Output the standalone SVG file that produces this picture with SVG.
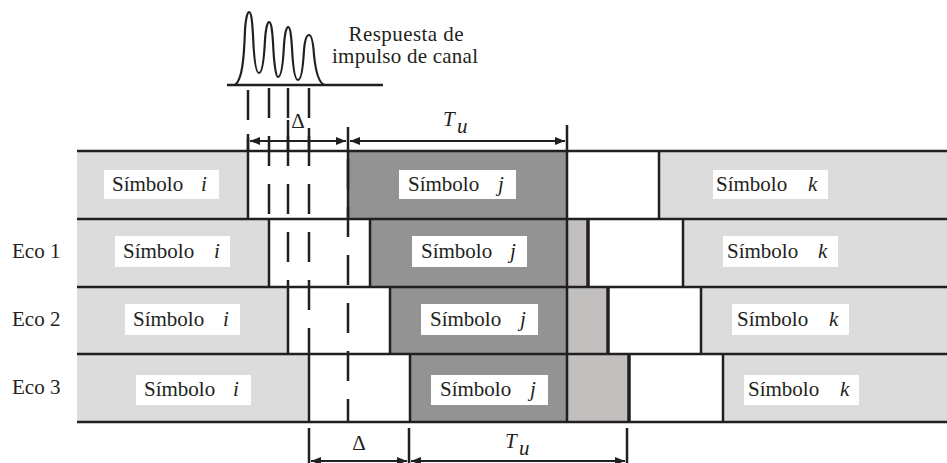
<svg xmlns="http://www.w3.org/2000/svg" width="947" height="463" viewBox="0 0 947 463">
<defs>
<style>
text{font-family:"Liberation Serif","Times New Roman",serif;font-size:21px;fill:#231f20}
.it{font-style:italic}
.lt{fill:#dcdcdc}
.dk{fill:#939393}
.md{fill:#c1c0bf}
.wh{fill:#ffffff}
.ln{stroke:#231f20;stroke-width:2.5;fill:none}
.thk{stroke:#231f20;stroke-width:3.5;fill:none}
.dash{stroke:#231f20;stroke-width:2.5;stroke-dasharray:30 18;fill:none}
.dim{stroke:#231f20;stroke-width:2;fill:none;marker-start:url(#ah);marker-end:url(#ah)}
.lab{fill:#ffffff}
</style>
<marker id="ah" viewBox="0 0 10 8" refX="10" refY="4" markerWidth="10" markerHeight="8" markerUnits="userSpaceOnUse" orient="auto-start-reverse">
<path d="M0,0 L10,4 L0,8 z" fill="#231f20"/>
</marker>
</defs>
<rect width="947" height="463" fill="#ffffff"/>

<g id="impulse">
<line class="ln" x1="227" y1="85" x2="383" y2="85" stroke-width="2"/>
<path d="M 235 85 C 242 80, 244 60, 245 30 C 246 15, 248 12, 249 12 C 251 12, 252 18, 253 35 C 254 60, 256 73, 259 73 C 262 73, 264 60, 265 40 C 266 25, 268 22, 269 22 C 271 22, 272 28, 273 42 C 274 65, 276 77, 278 77 C 281 77, 283 65, 284 45 C 285 30, 287 27, 288 27 C 290 27, 291 33, 292 48 C 293 68, 295 80, 298 80 C 301 80, 303 68, 304 50 C 305 38, 307 35, 309 35 C 311 35, 313 40, 314 55 C 316 75, 320 84, 325 85" fill="none" stroke="#231f20" stroke-width="2.2"/>
<text x="406" y="41" text-anchor="middle" textLength="115">Respuesta de</text>
<text x="405" y="63" text-anchor="middle" textLength="146">impulso de canal</text>
</g>

<g id="row0">
<rect class="lt" x="77" y="151" width="171" height="68"/>
<rect class="wh" x="248" y="151" width="100" height="68"/>
<rect class="dk" x="348" y="151" width="219" height="68"/>
<rect class="wh" x="567" y="151" width="92" height="68"/>
<rect class="lt" x="659" y="151" width="288" height="68"/>
<line class="ln" x1="248" y1="151" x2="248" y2="219"/>
<line class="ln" x1="348" y1="151" x2="348" y2="219"/>
<line class="ln" x1="567" y1="151" x2="567" y2="219"/>
<line class="ln" x1="659" y1="151" x2="659" y2="219"/>
</g>
<g id="row1">
<rect class="lt" x="77" y="219" width="192" height="68"/>
<rect class="wh" x="269" y="219" width="101" height="68"/>
<rect class="dk" x="370" y="219" width="197" height="68"/>
<rect class="md" x="567" y="219" width="21" height="68"/>
<rect class="wh" x="588" y="219" width="95" height="68"/>
<rect class="lt" x="683" y="219" width="264" height="68"/>
<line class="ln" x1="269" y1="219" x2="269" y2="287"/>
<line class="ln" x1="370" y1="219" x2="370" y2="287"/>
<line class="ln" x1="567" y1="219" x2="567" y2="287"/>
<line class="thk" x1="588" y1="219" x2="588" y2="287"/>
<line class="ln" x1="683" y1="219" x2="683" y2="287"/>
</g>
<g id="row2">
<rect class="lt" x="77" y="287" width="211" height="67"/>
<rect class="wh" x="288" y="287" width="102" height="67"/>
<rect class="dk" x="390" y="287" width="177" height="67"/>
<rect class="md" x="567" y="287" width="41" height="67"/>
<rect class="wh" x="608" y="287" width="93" height="67"/>
<rect class="lt" x="701" y="287" width="246" height="67"/>
<line class="ln" x1="288" y1="287" x2="288" y2="354"/>
<line class="ln" x1="390" y1="287" x2="390" y2="354"/>
<line class="ln" x1="567" y1="287" x2="567" y2="354"/>
<line class="thk" x1="608" y1="287" x2="608" y2="354"/>
<line class="ln" x1="701" y1="287" x2="701" y2="354"/>
</g>
<g id="row3">
<rect class="lt" x="77" y="354" width="232" height="68"/>
<rect class="wh" x="309" y="354" width="101" height="68"/>
<rect class="dk" x="410" y="354" width="157" height="68"/>
<rect class="md" x="567" y="354" width="61" height="68"/>
<rect class="wh" x="628" y="354" width="95" height="68"/>
<rect class="lt" x="723" y="354" width="224" height="68"/>
<line class="ln" x1="309" y1="354" x2="309" y2="422"/>
<line class="ln" x1="410" y1="354" x2="410" y2="422"/>
<line class="ln" x1="567" y1="354" x2="567" y2="422"/>
<line class="thk" x1="629" y1="354" x2="629" y2="422"/>
<line class="ln" x1="723" y1="354" x2="723" y2="422"/>
</g>

<g id="rowlines">
<line class="ln" x1="77" y1="151" x2="947" y2="151"/>
<line class="ln" x1="77" y1="219" x2="947" y2="219"/>
<line class="ln" x1="77" y1="287" x2="947" y2="287"/>
<line class="ln" x1="77" y1="354" x2="947" y2="354"/>
<line class="ln" x1="77" y1="422" x2="947" y2="422"/>
</g>

<g id="labels-i">
<rect class="lab" x="104" y="170" width="115" height="29"/>
<text x="112" y="191">Símbolo</text><text class="it" x="201" y="191">i</text>
<rect class="lab" x="115" y="236" width="115" height="31"/>
<text x="123" y="258">Símbolo</text><text class="it" x="214" y="258">i</text>
<rect class="lab" x="125" y="304" width="115" height="31"/>
<text x="133" y="326">Símbolo</text><text class="it" x="223" y="326">i</text>
<rect class="lab" x="136" y="375" width="115" height="30"/>
<text x="144" y="396">Símbolo</text><text class="it" x="233" y="396">i</text>
</g>
<g id="labels-j">
<rect class="lab" x="399" y="170" width="117" height="29"/>
<text x="408" y="191">Símbolo</text><text class="it" x="498" y="191">j</text>
<rect class="lab" x="412" y="236" width="115" height="31"/>
<text x="421" y="258">Símbolo</text><text class="it" x="510" y="258">j</text>
<rect class="lab" x="421" y="304" width="117" height="31"/>
<text x="430" y="326">Símbolo</text><text class="it" x="520" y="326">j</text>
<rect class="lab" x="431" y="375" width="117" height="30"/>
<text x="440" y="396">Símbolo</text><text class="it" x="530" y="396">j</text>
</g>
<g id="labels-k">
<rect class="lab" x="713" y="170" width="115" height="29"/>
<text x="716" y="191">Símbolo</text><text class="it" x="808" y="191">k</text>
<rect class="lab" x="723" y="236" width="115" height="31"/>
<text x="727" y="258">Símbolo</text><text class="it" x="818" y="258">k</text>
<rect class="lab" x="732" y="304" width="117" height="31"/>
<text x="737" y="326">Símbolo</text><text class="it" x="829" y="326">k</text>
<rect class="lab" x="744" y="375" width="115" height="30"/>
<text x="748" y="396">Símbolo</text><text class="it" x="840" y="396">k</text>
</g>

<g id="echo-labels">
<text x="12" y="258">Eco 1</text>
<text x="12" y="326">Eco 2</text>
<text x="12" y="394">Eco 3</text>
</g>

<g id="connectors">
<line class="dash" x1="248" y1="90" x2="248" y2="151"/>
<line class="dash" x1="269" y1="88" x2="269" y2="219"/>
<line class="dash" x1="288" y1="88" x2="288" y2="287"/>
<line class="dash" x1="309" y1="88" x2="309" y2="354"/>
<line class="dash" x1="348" y1="159" x2="348" y2="422"/>
<line class="ln" x1="248" y1="134" x2="248" y2="151"/>
<line class="ln" x1="288" y1="120" x2="288" y2="151"/>
<line class="ln" x1="309" y1="128" x2="309" y2="151"/>
<line class="ln" x1="348" y1="127" x2="348" y2="151"/>
<line class="ln" x1="567" y1="125" x2="567" y2="151"/>
<line class="dim" x1="250" y1="141" x2="346" y2="141"/>
<line class="dim" x1="350" y1="141" x2="565" y2="141"/>
<text x="298" y="128" text-anchor="middle">Δ</text>
<text class="it" x="443" y="126">T</text><text class="it" x="457" y="133" font-size="14">u</text>
<line class="ln" x1="309" y1="428" x2="309" y2="463"/>
<line class="ln" x1="409" y1="428" x2="409" y2="463"/>
<line class="ln" x1="627" y1="428" x2="627" y2="463"/>
<line class="dim" x1="311" y1="461" x2="407" y2="461"/>
<line class="dim" x1="411" y1="461" x2="625" y2="461"/>
<text x="359" y="450" text-anchor="middle">Δ</text>
<text class="it" x="505" y="448">T</text><text class="it" x="519" y="455" font-size="14">u</text>
</g>
</svg>
